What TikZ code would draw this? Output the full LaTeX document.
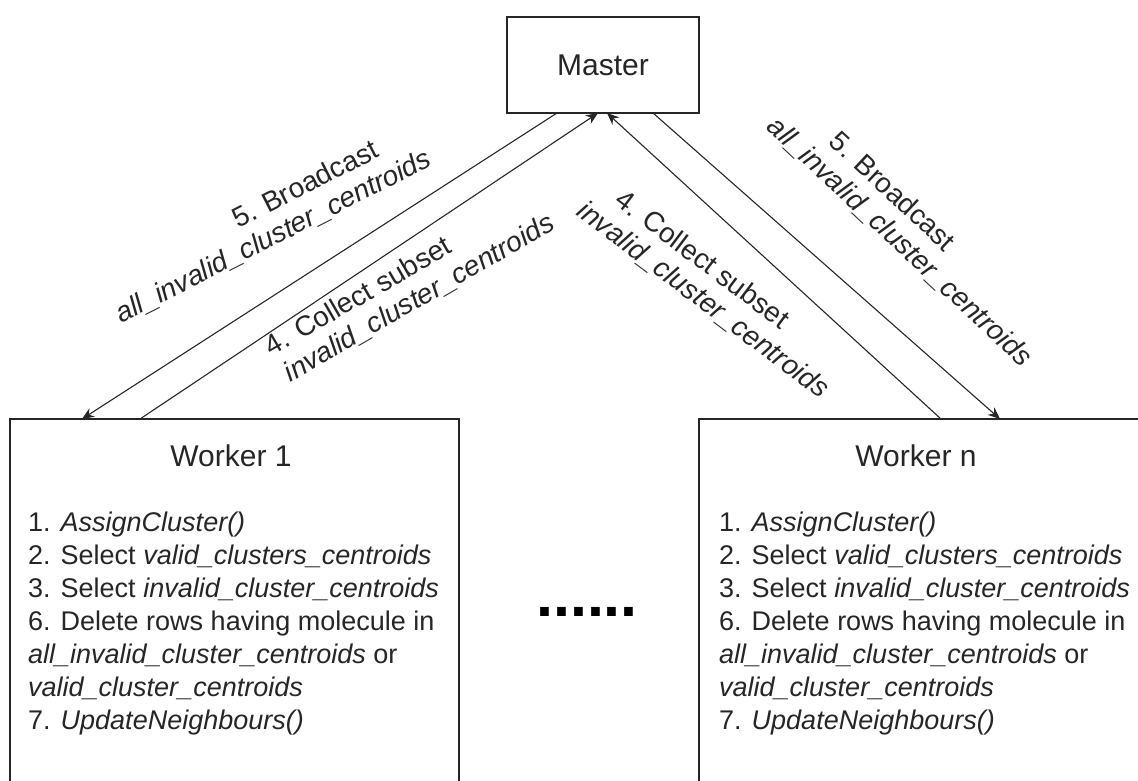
\documentclass[tikz,border=0pt]{standalone}
\usepackage{fontspec}
\setmainfont{Liberation Sans}
\usetikzlibrary{arrows.meta}
\begin{document}
\begin{tikzpicture}[x=1pt,y=-1pt,
  box/.style={draw=black!85,line width=1.6pt,inner sep=0pt,outer sep=0pt},
  msg/.style={draw=black!85,line width=1.1pt,-{Stealth[length=12pt,width=10pt]}},
  lbl/.style={text=black!85,font=\fontsize{28}{33}\selectfont,inner sep=0pt},
  title/.style={text=black!85,font=\fontsize{30}{34}\selectfont,inner sep=0pt},
  steps/.style={text=black!85,font=\fontsize{27}{33}\selectfont,align=left,inner sep=0pt,anchor=north west}]
\useasboundingbox (0,0) rectangle (1138,780);
\clip (0,0) rectangle (1138,780);

% master and the two workers (workers run past the lower edge)
\node[box,minimum width=192pt,minimum height=96pt] (master) at (603,65) {};
\node[box,anchor=north west,minimum width=449pt,minimum height=420pt] (w1) at (10,419) {};
\node[box,anchor=north west,minimum width=449pt,minimum height=420pt] (wn) at (699,419) {};

\node[title] (mtitle) at (master.center) {Master};
\node[title] (w1title) at (231,456) {Worker 1};
\node[title] (wntitle) at (916,456) {Worker n};

\node[steps] (w1steps) at (28,512) {1. \textit{AssignCluster()}\\
2. Select \textit{valid\_clusters\_centroids}\\
3. Select \textit{invalid\_cluster\_centroids}\\
6. Delete rows having molecule in\\
\textit{all\_invalid\_cluster\_centroids} or\\
\textit{valid\_cluster\_centroids}\\
7. \textit{UpdateNeighbours()}};
\node[steps] (wnsteps) at (719,512) {1. \textit{AssignCluster()}\\
2. Select \textit{valid\_clusters\_centroids}\\
3. Select \textit{invalid\_cluster\_centroids}\\
6. Delete rows having molecule in\\
\textit{all\_invalid\_cluster\_centroids} or\\
\textit{valid\_cluster\_centroids}\\
7. \textit{UpdateNeighbours()}};

\node[text=black,font=\fontsize{61}{61}\selectfont\bfseries,inner sep=0pt] (dots) at (587,612) {......};

% messages between master and workers
\draw[msg] ([xshift=50pt]master.south west) -- ([xshift=72pt]w1.north west);
\draw[msg] ([xshift=130pt]w1.north west) -- ([xshift=91pt]master.south west);
\draw[msg] ([xshift=242pt]wn.north west) -- ([xshift=100pt]master.south west);
\draw[msg] ([xshift=146pt]master.south west) -- ([xshift=301pt]wn.north west);

% message labels: two lines each, set along the arrow direction
\begin{scope}[shift={(266,222)},rotate=27,transform shape]
  \node[lbl] (lb1a) at (52,-16.5) {5. Broadcast};
  \node[lbl] (lb1b) at (0,16.5) {\textit{all\_invalid\_cluster\_centroids}};
\end{scope}
\begin{scope}[shift={(411,284)},rotate=30,transform shape]
  \node[lbl] (lc1a) at (-52,-16.5) {4. Collect subset};
  \node[lbl] (lc1b) at (0,16.5) {\textit{invalid\_cluster\_centroids}};
\end{scope}
\begin{scope}[shift={(713,287)},rotate=-37,transform shape]
  \node[lbl] (lcna) at (-25,-16.5) {4. Collect subset};
  \node[lbl] (lcnb) at (0,16.5) {\textit{invalid\_cluster\_centroids}};
\end{scope}
\begin{scope}[shift={(911,230)},rotate=-43,transform shape]
  \node[lbl] (lbna) at (-40,-16.5) {5. Broadcast};
  \node[lbl] (lbnb) at (0,16.5) {\textit{all\_invalid\_cluster\_centroids}};
\end{scope}
\end{tikzpicture}
\end{document}
